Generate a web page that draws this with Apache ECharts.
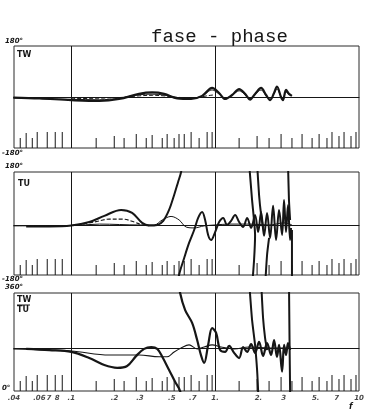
<!DOCTYPE html>
<html>
<head>
<meta charset="utf-8">
<script src="https://cdn.jsdelivr.net/npm/echarts@6/dist/echarts.min.js"></script>
<style>
  html, body { margin: 0; padding: 0; background: #fff; }
  #chart { width: 366px; height: 411px; }
</style>
</head>
<body>
<div id="chart"></div>
<script>
// Frequency axis (log), tick marks along the bottom of every panel
const tickFreq = [0.0442, 0.0486, 0.0536, 0.058, 0.0681, 0.0774, 0.0866,
  0.149, 0.199, 0.233, 0.283, 0.332, 0.365, 0.429, 0.464, 0.519, 0.561, 0.61, 0.681, 0.774, 0.88, 0.953,
  1.468, 1.957, 2.371, 2.873, 3.42, 4.02, 4.72, 5.28, 5.99, 6.49, 7.26, 7.87, 8.8, 9.53];
const tickLen = [10, 15, 10, 16, 16, 16, 16,
  10, 12, 10, 14, 10, 13, 10, 14, 10, 14, 14, 16, 10, 16, 16,
  10, 12, 10, 14, 10, 14, 10, 14, 10, 16, 12, 16, 12, 16];

// Frequency labels under the last panel
const freqLabels = ['.04', '.06', '7', '8', '.1', '.2', '.3', '.5', '.7', '1.', '2.', '3', '5.', '7', '10'];
const freqLabelPos = [0.04, 0.06, 0.07, 0.08, 0.1, 0.2, 0.3, 0.5, 0.7, 1, 2, 3, 5, 7, 10];

// Panel 1: TW phase (degrees)
const tw1 = [[0.0396,-2],[0.06,-5],[0.1,-11],[0.157,-14],[0.215,-7],[0.296,11],[0.365,16],[0.442,11],[0.545,-5],[0.681,-7],[0.812,4],[0.953,32],[1.066,14],[1.173,-7],[1.312,7],[1.468,28],[1.616,11],[1.749,-9],[1.895,11],[2.087,32],[2.26,7],[2.41,-11],[2.568,14],[2.69,37],[2.87,0],[2.96,-11],[3.11,25],[3.26,11],[3.42,4]];
const tw2 = [[0.0396,-3],[0.1,-8],[0.157,-10],[0.215,-4],[0.296,8],[0.365,10],[0.442,7],[0.545,-3],[0.681,-5],[0.812,3],[0.953,25],[1.066,10],[1.173,-5],[1.312,6],[1.468,22],[1.616,8],[1.749,-6],[1.895,9],[2.087,25],[2.26,5],[2.41,-8],[2.568,12],[2.69,28],[2.87,2],[2.96,-8],[3.11,18],[3.26,8]];
const tw3 = [[0.1,-6],[0.215,-2],[0.296,4],[0.365,6],[0.442,4],[0.545,-1],[0.7,-3],[0.9,5],[1,8]];

// Panel 2: TU phase (degrees)
const tuA = [[0.0486,-5],[0.0703,-5],[0.1,-2],[0.1334,10],[0.1698,31],[0.2222,51],[0.265,41],[0.311,7],[0.3477,-2],[0.396,0],[0.436,14],[0.4785,51],[0.519,102],[0.553,146],[0.58,180],[0.59,210]];
const tuA2 = [[0.55,-210],[0.5612,-170],[0.6095,-112],[0.659,-61],[0.715,-17],[0.762,24],[0.812,44],[0.852,17],[0.894,-34],[0.938,-51],[1,-24],[1.066,10],[1.137,24],[1.211,0],[1.291,14],[1.377,34],[1.468,10],[1.565,-7],[1.67,24],[1.778,-10],[1.895,34],[1.99,-24],[2.087,44],[2.188,-37],[2.296,41],[2.41,-44],[2.528,65],[2.652,-51],[2.782,51],[2.92,-34],[3.013,85],[3.11,-24],[3.21,68],[3.32,-51],[3.37,-10]];
const tuB = [[0.1,-2],[0.1445,10],[0.1836,20],[0.226,20],[0.274,10],[0.311,0],[0.348,-2]];
const tuC = [[0.0396,-3],[0.1,-2],[0.157,3],[0.297,0],[0.377,0],[0.429,17],[0.494,29],[0.562,17],[0.629,-7],[0.715,-10],[0.839,-3],[1,0],[1.251,3],[1.722,3],[2.371,0],[3.013,7],[3.42,0]];
const tuS1 = [[1.722,210],[1.806,85],[1.895,-34],[1.865,-119],[1.806,-210]];
const tuS2 = [[1.957,210],[2.02,102],[2.087,34],[2.154,-10]];
const tuS3 = [[2.224,-210],[2.296,-102],[2.371,-44]];
const tuS4 = [[3.21,210],[3.26,85],[3.32,17]];
const tuS5 = [[3.42,-17],[3.42,-210]];

// Panel 3: TW/TU phase (degrees, relative to the 180° centre line)
const rD = [[0.0486,-3],[0.0703,-7],[0.1,-13],[0.1334,-33],[0.1698,-56],[0.2088,-65],[0.2445,-59],[0.283,-26],[0.321,-3],[0.36,3],[0.396,-3],[0.429,-29],[0.4785,-72],[0.527,-111],[0.571,-141],[0.59,-180]];
const rD2 = [[0.56,220],[0.571,180],[0.619,124],[0.692,82],[0.75,26],[0.8,-26],[0.839,-49],[0.894,10],[0.953,65],[1.016,49],[1.083,-7],[1.173,-13],[1.251,7],[1.355,-16],[1.468,-33],[1.565,3],[1.67,-13],[1.778,13],[1.895,-16],[2.02,20],[2.154,-26],[2.296,16],[2.448,-23],[2.568,26],[2.69,-29],[2.782,10],[2.92,-78],[3.013,10],[3.11,-23],[3.21,16],[3.32,-7]];
const rE = [[0.0396,-3],[0.1,-10],[0.1836,-23],[0.2964,-23],[0.408,-29],[0.464,-29],[0.519,-13],[0.58,0],[0.659,10],[0.75,-3],[0.839,3],[0.953,10],[1.1,3],[1.355,-3],[1.722,3],[2.371,0],[3.26,0]];
const rT1 = [[1.722,220],[1.806,92],[1.895,10],[1.957,-72],[1.99,-141],[2.0,-180]];
const rT2 = [[2.087,220],[2.154,98],[2.224,33],[2.296,-7]];
const rT3 = [[3.26,220],[3.29,26],[3.32,-141],[3.33,-180]];

const INK = '#161616';
const panels = [
  { top: 46, height: 102, min: -180, max: 180 },
  { top: 172, height: 103, min: -170, max: 180 },
  { top: 293, height: 98, min: -141, max: 180 }
];

const chart = echarts.init(document.getElementById('chart'), null, { renderer: 'canvas' });

function curve(data, gi, width, dashed, smooth) {
  return {
    type: 'line', xAxisIndex: gi, yAxisIndex: gi, data: data,
    showSymbol: false, symbol: 'none', smooth: smooth === undefined ? 0.35 : smooth,
    clip: true, silent: true,
    lineStyle: { color: INK, width: width, type: dashed ? [4, 2] : 'solid' }
  };
}

function tickSeries(gi) {
  const yMin = panels[gi].min;
  return {
    type: 'custom', xAxisIndex: gi, yAxisIndex: gi, silent: true,
    data: tickFreq.map((f, i) => [f, tickLen[i]]),
    renderItem: function (params, api) {
      const p = api.coord([api.value(0), yMin]);
      return {
        type: 'line',
        shape: { x1: p[0], y1: p[1], x2: p[0], y2: p[1] - api.value(1) },
        style: { stroke: INK, lineWidth: 1 }
      };
    },
    markLine: {
      silent: true, symbol: 'none', label: { show: false },
      lineStyle: { color: INK, type: 'solid', width: 1 },
      data: [{ xAxis: 0.1 }, { xAxis: 1 }]
    }
  };
}

const series = [];
[0, 1, 2].forEach(gi => series.push(tickSeries(gi)));
series.push(curve(tw1, 0, 2.2), curve(tw2, 0, 1), curve(tw3, 0, 1, true));
series.push(curve(tuA, 1, 2), curve(tuA2, 1, 2), curve(tuB, 1, 1.2, true), curve(tuC, 1, 1));
[tuS1, tuS2, tuS3, tuS4, tuS5].forEach(d => series.push(curve(d, 1, 2, false, 0.2)));
series.push(curve(rD, 2, 2.2), curve(rD2, 2, 2.2), curve(rE, 2, 1.1));
[rT1, rT2, rT3].forEach(d => series.push(curve(d, 2, 2, false, 0.2)));

series.push({
  type: 'scatter', xAxisIndex: 2, yAxisIndex: 2, silent: true, clip: false,
  symbolSize: 0,
  data: freqLabelPos.map(f => [f, panels[2].min]),
  label: {
    show: true, position: 'bottom', distance: 4,
    formatter: p => freqLabels[p.dataIndex],
    color: INK, fontSize: 7, fontStyle: 'italic', fontWeight: 'bold', fontFamily: 'DejaVu Sans'
  }
});

const small = { fill: INK, fontSize: 7, fontStyle: 'italic', fontWeight: 'bold', fontFamily: 'DejaVu Sans' };
function txt(x, y, text, extra) {
  return { type: 'text', left: x, top: y, silent: true, style: Object.assign({ text: text }, small, extra || {}) };
}

chart.setOption({
  animation: false,
  backgroundColor: '#ffffff',
  title: {
    text: 'fase - phase', left: 146, top: 22,
    textStyle: { fontFamily: 'Liberation Mono', fontSize: 19, fontWeight: 'normal', color: INK }
  },
  grid: panels.map(p => ({
    left: 14, top: p.top, width: 345, height: p.height, show: true,
    borderColor: '#2a2a2a', borderWidth: 1, backgroundColor: 'transparent'
  })),
  xAxis: panels.map((p, i) => ({
    type: 'log', logBase: 10, min: 0.04, max: 10, gridIndex: i,
    axisLabel: { show: false }, axisTick: { show: false }, splitLine: { show: false },
    axisLine: { show: true, onZero: true, lineStyle: { color: INK, width: 1 } }
  })),
  yAxis: panels.map((p, i) => ({
    type: 'value', min: p.min, max: p.max, gridIndex: i,
    axisLabel: { show: false }, axisTick: { show: false }, splitLine: { show: false },
    axisLine: { show: false }
  })),
  graphic: [
    txt(5, 38, '180°'),
    txt(2, 150, '-180°'),
    txt(5, 163, '180°'),
    txt(2, 276, '-180°'),
    txt(5, 284, '360°'),
    txt(2, 385, '0°'),
    txt(17, 51, 'TW', { fontStyle: 'normal', fontSize: 8 }),
    txt(18, 180, 'TU', { fontStyle: 'normal', fontSize: 8 }),
    txt(17, 296, 'TW', { fontStyle: 'normal', fontSize: 8 }),
    { type: 'line', silent: true, shape: { x1: 17, y1: 305, x2: 30, y2: 305 }, style: { stroke: INK, lineWidth: 1 } },
    txt(17, 306, 'TU', { fontStyle: 'normal', fontSize: 8 }),
    txt(349, 403, 'f', { fontSize: 8 })
  ],
  series: series
});
</script>
</body>
</html>
